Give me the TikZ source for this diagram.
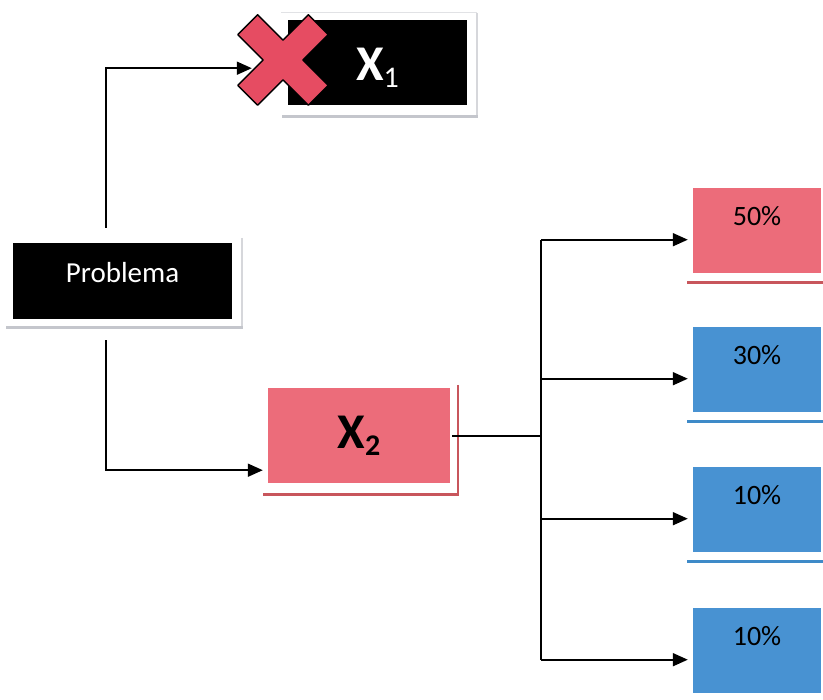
\documentclass[tikz,border=0pt]{standalone}
\usepackage{fontspec}
\setmainfont{Carlito}
\usetikzlibrary{arrows.meta, calc}

\definecolor{rosa}{RGB}{236,108,122}
\definecolor{rosaline}{RGB}{200,86,92}
\definecolor{cruz}{RGB}{230,76,98}
\definecolor{azul}{RGB}{72,146,210}
\definecolor{azulline}{RGB}{62,138,200}
\definecolor{marco}{RGB}{196,198,204}

\tikzset{
  box/.style={rectangle, anchor=north, inner xsep=0pt, inner ysep=0pt},
  darkbox/.style={box, fill=black, text=white},
  pct/.style={box, minimum width=128pt, text height=37pt, text depth=48pt,
    font=\fontsize{28}{28}\selectfont},
  arr/.style={-{Triangle[length=15pt, width=13pt]}, line width=1.8pt},
  linea/.style={line width=1.8pt},
}

\begin{document}
\begin{tikzpicture}[x=1pt, y=-1pt]
    \useasboundingbox (0,0) rectangle (823,700);

    % shadow frames
    \draw[marco!50, line width=1pt] (281,13) -- (477,13);
    \draw[marco!70, line width=1.5pt] (477,13) -- (477,117);
    \draw[marco, line width=3pt] (282,117) -- (478,117);
    \draw[marco!70, line width=1.5pt] (242,238) -- (242,328);
    \draw[marco, line width=3pt] (6,328) -- (243,328);
    \draw[rosaline, line width=2pt] (458,385) -- (458,495);
    \draw[rosaline, line width=3pt] (263,495) -- (459,495);
    \draw[rosaline, line width=3pt] (687,283) -- (823,283);
    \draw[azulline, line width=3pt] (687,422) -- (823,422);
    \draw[azulline, line width=3pt] (687,562) -- (823,562);

    \node[darkbox, minimum width=219pt, text height=39pt, text depth=37pt,
      font=\fontsize{29}{29}\selectfont] (prob) at (122.5,243) {Problema};
    \node[darkbox, minimum width=179pt, text height=60pt, text depth=25pt,
      font=\fontsize{50}{50}\selectfont\bfseries] (x1) at (377.5,20)
      {X\raisebox{-7pt}{\fontsize{30}{30}\selectfont\mdseries 1}};
    \node[box, fill=rosa, minimum width=182pt, text height=60pt, text depth=35pt,
      font=\fontsize{50}{50}\selectfont\bfseries] (x2) at (359,388)
      {X\raisebox{-7pt}{\fontsize{30}{30}\selectfont 2}};

    \foreach \n/\y/\c/\t in {1/188/rosa/50, 2/327/azul/30, 3/467/azul/10, 4/608/azul/10}
        \node[pct, fill=\c] (b\n) at (757,\y) {\t\%};

    % crossed out
    \begin{scope}[shift={(283,60)}, rotate=45]
        \draw[fill=cruz, line width=1.4pt, line join=round]
            (-14,-50) -- (14,-50) -- (14,-14) -- (50,-14) -- (50,14) -- (14,14)
            -- (14,50) -- (-14,50) -- (-14,14) -- (-50,14) -- (-50,-14) -- (-14,-14) -- cycle;
    \end{scope}

    \coordinate (up) at ($(prob.north)+(-16.5,-15)$);
    \coordinate (down) at ($(prob.south)+(-16.5,21)$);
    \coordinate (in1) at ($(x1.west)+(-36,5.5)$);
    \coordinate (in2) at ($(x2.west)+(-5,34.5)$);
    \draw[arr] (up) |- (in1);
    \draw[arr] (down) |- (in2);

    \coordinate (out) at ($(x2.east)+(2,0)$);
    \coordinate (fork) at ($(x2.east)+(91,0)$);
    \draw[linea] (out) -- (fork);
    \foreach \n in {1,...,4} {
        \path ([yshift=-9pt]b\n.west) coordinate (t\n);
        \draw[arr] (fork |- t\n) -- ([xshift=-5pt]t\n);
    }
    \draw[linea] (fork |- t1) -- (fork |- t4);
\end{tikzpicture}
\end{document}
